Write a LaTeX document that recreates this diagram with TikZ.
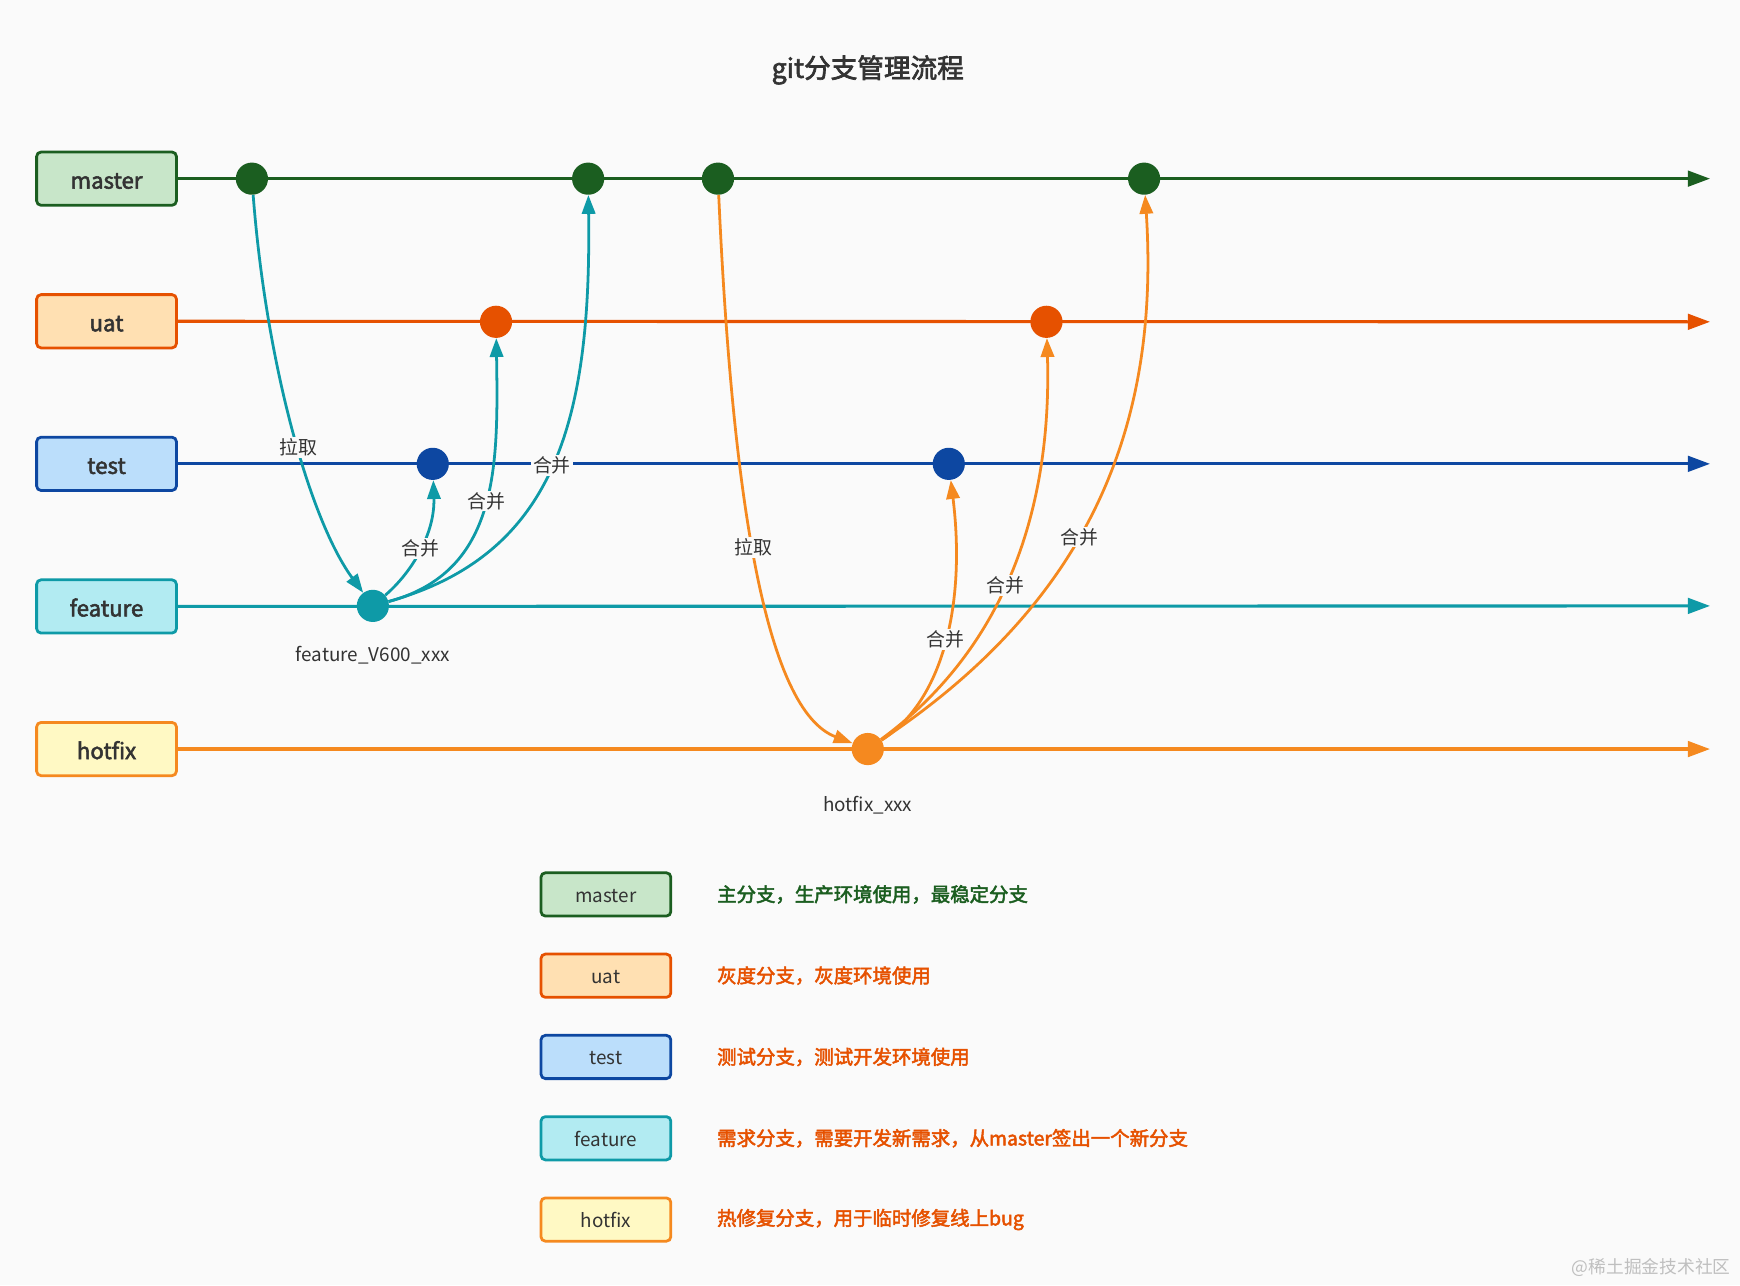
\documentclass[tikz,border=0pt]{standalone}
\usepackage{fontspec}
\setmainfont{Noto Sans CJK SC}
\newfontfamily\medfont[FakeBold=2.5]{Noto Sans CJK SC}
\usetikzlibrary{arrows.meta,positioning,calc}

\definecolor{bgcol}{HTML}{FAFAFA}
\definecolor{txtcol}{HTML}{333333}
\definecolor{mastercol}{HTML}{1B5E20}
\definecolor{masterfill}{HTML}{C8E6C9}
\definecolor{uatcol}{HTML}{E65100}
\definecolor{uatfill}{HTML}{FFE0B2}
\definecolor{testcol}{HTML}{0D47A1}
\definecolor{testfill}{HTML}{BBDEFB}
\definecolor{featcol}{HTML}{0E9AA7}
\definecolor{featfill}{HTML}{B2EBF2}
\definecolor{hotcol}{HTML}{F5891F}
\definecolor{hotfill}{HTML}{FFF9C4}

\begin{document}
\begin{tikzpicture}[x=1pt, y=-1pt, node distance = 128.5pt]

\tikzstyle{branch} = [rectangle, rounded corners=4pt, minimum width=126pt, minimum height=48pt, text height=20pt, text depth=2pt, line width=2.5pt, text=txtcol, font=\fontsize{20}{24}\selectfont\medfont]
\tikzstyle{legendbox} = [rectangle, rounded corners=4pt, minimum width=117pt, minimum height=39pt, text height=16pt, text depth=2pt, line width=2.5pt, text=txtcol, font=\fontsize{17}{20}\selectfont]
\tikzstyle{desc} = [anchor=west, font=\fontsize{17.5}{20}\selectfont\medfont]
\tikzstyle{commit} = [circle, minimum size=29pt, inner sep=0pt]
\tikzstyle{trunk} = [line width=2.8pt, -{Triangle[length=20pt,width=14pt]}]
\tikzstyle{arrow} = [line width=2.5pt, -{Triangle[length=17pt,width=12pt]}]
\tikzstyle{lbl} = [fill=bgcol, inner sep=1.5pt, text=txtcol, font=\fontsize{17}{20}\selectfont]
\tikzstyle{tag} = [text=txtcol, font=\fontsize{17}{20}\selectfont]

\fill[bgcol] (0,0) rectangle (1568,1158);
\useasboundingbox (0,0) rectangle (1568,1158);

\node (title) [text=txtcol, font=\fontsize{24}{28}\selectfont\medfont] at (782,63) {git分支管理流程};

%% ------------------
%% -- BRANCHES --
%% ------------------

\node (master)  [branch, draw=mastercol, fill=masterfill] at (96,161) {master};
\node (uat)     [branch, draw=uatcol, fill=uatfill, below of=master] {uat};
\node (test)    [branch, draw=testcol, fill=testfill, below of=uat] {test};
\node (feature) [branch, draw=featcol, fill=featfill, below of=test] {feature};
\node (hotfix)  [branch, draw=hotcol, fill=hotfill, below of=feature] {hotfix};

\coordinate (end_master)  at (1541,161);
\coordinate (end_uat)     at (1541,290);
\coordinate (end_test)    at (1541,418);
\coordinate (end_feature) at (1541,546);
\coordinate (end_hotfix)  at (1541,675);

\draw [trunk, mastercol] (master) -- (end_master);
\draw [trunk, uatcol] (uat) -- (end_uat);
\draw [trunk, testcol] (test) -- (end_test);
\draw [trunk, featcol] (feature) -- (end_feature);
\draw [trunk, hotcol] (hotfix) -- (end_hotfix);

% commits
\node (m1) [commit, fill=mastercol] at (227,161) {};
\node (m2) [commit, fill=mastercol] at (530,161) {};
\node (m3) [commit, fill=mastercol] at (647,161) {};
\node (m4) [commit, fill=mastercol] at (1031,161) {};
\node (u1) [commit, fill=uatcol] at (447,290) {};
\node (u2) [commit, fill=uatcol] at (943,290) {};
\node (t1) [commit, fill=testcol] at (390,418) {};
\node (t2) [commit, fill=testcol] at (855,418) {};
\node (f1) [commit, fill=featcol] at (336,546) {};
\node (h1) [commit, fill=hotcol] at (782,675) {};

\node (ftag) [tag, below=18pt of f1] {feature\_V600\_xxx};
\node (htag) [tag, below=24pt of h1] {hotfix\_xxx};

%% ------------------
%% -- FEATURE FLOW --
%% ------------------

\draw [arrow, featcol] (m1) .. controls (240,330) and (280,470) .. (f1) node[lbl, pos=0.54] {拉取};
\draw [arrow, featcol] (f1) .. controls (372,515) and (392,480) .. (t1) node[lbl, pos=0.5] {合并};
\draw [arrow, featcol] (f1) .. controls (450,515) and (449,420) .. (u1) node[lbl, pos=0.52] {合并};
\draw [arrow, featcol] (f1) .. controls (500,500) and (533,380) .. (m2) node[lbl, pos=0.5] {合并};

%% ------------------
%% -- HOTFIX FLOW --
%% ------------------

\draw [arrow, hotcol] (m3) .. controls (660,450) and (690,640) .. (h1) node[lbl, pos=0.46] {拉取};
\draw [arrow, hotcol] (h1) .. controls (852,630) and (870,540) .. (t2) node[lbl, pos=0.5] {合并};
\draw [arrow, hotcol] (h1) .. controls (905,585) and (948,460) .. (u2) node[lbl, pos=0.46] {合并};
\draw [arrow, hotcol] (h1) .. controls (985,540) and (1045,380) .. (m4) node[lbl, pos=0.43] {合并};

%% ------------------
%% -- LEGEND --
%% ------------------

\begin{scope}[node distance = 73.25pt]
\node (lmaster)  [legendbox, draw=mastercol, fill=masterfill] at (546,806) {master};
\node (luat)     [legendbox, draw=uatcol, fill=uatfill, below of=lmaster] {uat};
\node (ltest)    [legendbox, draw=testcol, fill=testfill, below of=luat] {test};
\node (lfeature) [legendbox, draw=featcol, fill=featfill, below of=ltest] {feature};
\node (lhotfix)  [legendbox, draw=hotcol, fill=hotfill, below of=lfeature] {hotfix};
\end{scope}

\node (dmaster)  [desc, text=mastercol, right=37pt of lmaster] {主分支，生产环境使用，最稳定分支};
\node (duat)     [desc, text=uatcol, right=37pt of luat] {灰度分支，灰度环境使用};
\node (dtest)    [desc, text=uatcol, right=37pt of ltest] {测试分支，测试开发环境使用};
\node (dfeature) [desc, text=uatcol, right=37pt of lfeature] {需求分支，需要开发新需求，从master签出一个新分支};
\node (dhotfix)  [desc, text=uatcol, right=37pt of lhotfix] {热修复分支，用于临时修复线上bug};

\node (mark) [anchor=east, text=black!25, font=\fontsize{16}{18}\selectfont] at (1563,1142) {@稀土掘金技术社区};

\end{tikzpicture}
\end{document}
